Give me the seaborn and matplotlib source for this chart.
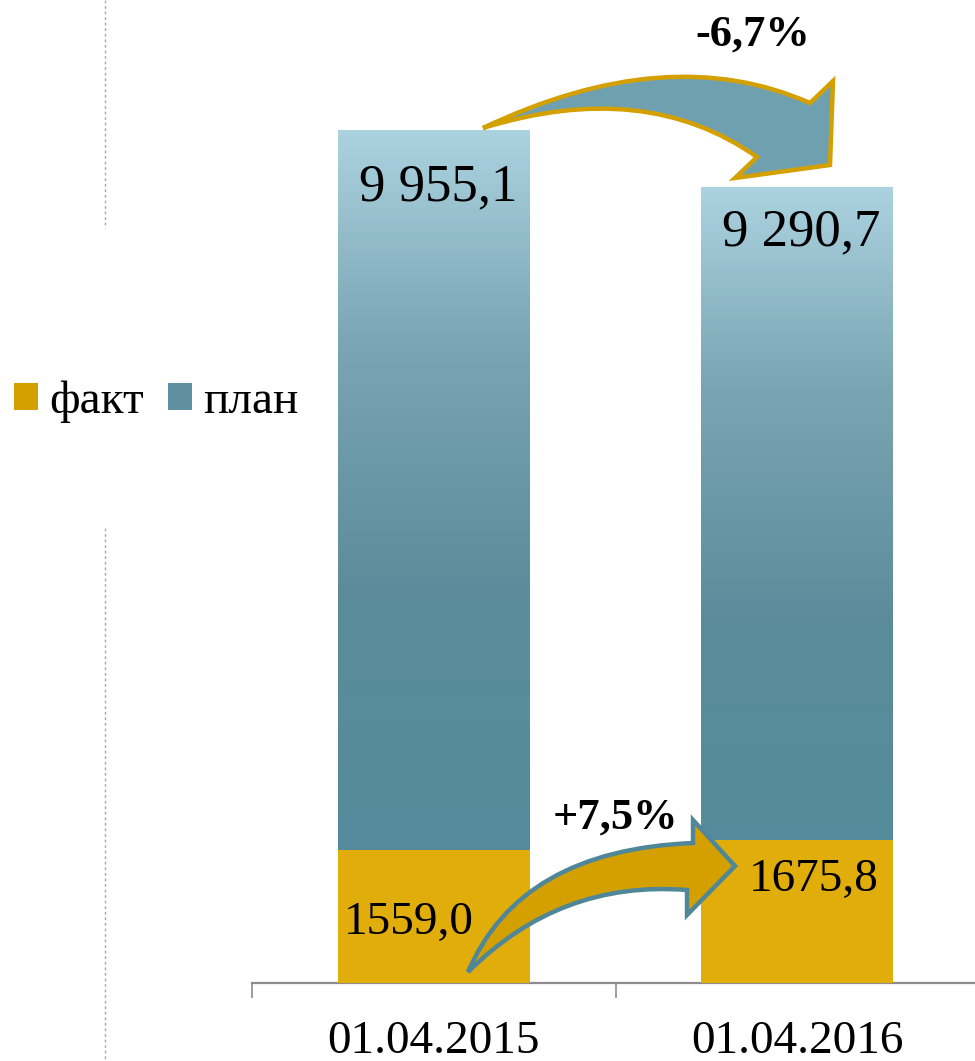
import matplotlib
matplotlib.use('Agg')
import matplotlib.pyplot as plt
import matplotlib.patches as mpatches
from matplotlib.path import Path
from matplotlib.lines import Line2D
from matplotlib.colors import LinearSegmentedColormap
import seaborn as sns
import numpy as np

# data
dates = ['01.04.2015', '01.04.2016']
plan = [9955.1, 9290.7]
fact = [1559.0, 1675.8]
plan_labels = ['9 955,1', '9 290,7']
fact_labels = ['1559,0', '1675,8']
changes = ['-6,7%', '+7,5%']
series_names = ['факт', 'план']

sns.set_style('white')
plt.rcParams['font.family'] = ['Liberation Serif', 'DejaVu Serif']
plt.rcParams['text.color'] = 'black'
plt.rcParams['xtick.color'] = '#8c8c8c'
plt.rcParams['xtick.labelcolor'] = 'black'

W, H = 975, 1061
fig = plt.figure(figsize=(W / 100, H / 100), dpi=100)
ax = fig.add_axes([252 / W, (H - 983) / H, (979 - 252) / W, 983 / H])

gold = '#e0ad0b'
gold_dark = '#d4a000'
teal_edge = '#4f8799'
grad = LinearSegmentedColormap.from_list(
    'plan', [(0.0, '#528c9e'), (0.45, '#5b8b9a'), (0.75, '#7ba5b3'), (1.0, '#abd2df')])

# plan bars (behind), fact bars in front
sns.barplot(x=dates, y=plan, ax=ax, width=0.528, color='#5f8fa0', saturation=1,
            linewidth=0, zorder=1)
sns.barplot(x=dates, y=fact, ax=ax, width=0.528, color=gold, saturation=1,
            linewidth=0, zorder=3)

# replace plan fill with vertical gradient
ramp = np.linspace(0, 1, 256).reshape(-1, 1)
for bar in ax.containers[0]:
    x0, y0 = bar.get_x(), bar.get_y()
    bw, bh = bar.get_width(), bar.get_height()
    bar.set_facecolor('none')
    ax.imshow(ramp, cmap=grad, origin='lower', aspect='auto',
              extent=(x0, x0 + bw, y0, y0 + bh), zorder=2)

ax.set_xlim(-0.5, 1.5)
ax.set_ylim(0, 11480)

# value labels
plan_off = [(0.011, 668), (1.01, 529)]
for i, lab in enumerate(plan_labels):
    dx, dy = plan_off[i]
    ax.text(dx, plan[i] - dy, lab, ha='center', va='center', fontsize=38, zorder=5)
fact_pos = [(-0.069, 701), (1.045, 1203)]
for i, lab in enumerate(fact_labels):
    ax.text(fact_pos[i][0], fact_pos[i][1], lab, ha='center', va='center',
            fontsize=34, zorder=5)

# axes styling
for s in ['top', 'left', 'right']:
    ax.spines[s].set_visible(False)
ax.spines['bottom'].set_color('#8c8c8c')
ax.spines['bottom'].set_linewidth(1.6)
ax.set_yticks([])
ax.set_xticks([-0.5, 0.5, 1.5], minor=False)
ax.set_xticklabels([])
ax.tick_params(axis='x', which='major', direction='out', length=11, width=1.2,
               color='#8c8c8c', bottom=True)
ax.set_xticks([0, 1], minor=True)
ax.set_xticklabels(dates, minor=True)
ax.tick_params(axis='x', which='minor', length=0, pad=27, labelsize=34,
               labelcolor='black', bottom=True)
ax.set_xlabel('')
ax.patch.set_alpha(0)


def px(pts):
    return [(x / W, (H - y) / H) for x, y in pts]


def arrow(verts, codes, face, edge):
    p = Path(px(verts), codes)
    fig.add_artist(mpatches.PathPatch(p, facecolor=face, edgecolor=edge, lw=3.2,
                                      joinstyle='miter', transform=fig.transFigure,
                                      zorder=6))


M, C3, L, CL = Path.MOVETO, Path.CURVE3, Path.LINETO, Path.CLOSEPOLY
# plan change arrow
arrow([(483, 128), (668, 40), (810, 103), (833, 81), (830, 165), (735, 178),
       (757, 157), (645, 78), (483, 128), (483, 128)],
      [M, C3, C3, L, L, L, L, C3, C3, CL], '#6fa0b0', gold_dark)
# fact change arrow
arrow([(468, 972), (520, 850), (693, 843), (693, 820), (735, 866), (687, 915),
       (687, 890), (560, 880), (468, 972), (468, 972)],
      [M, C3, C3, L, L, L, L, C3, C3, CL], gold_dark, teal_edge)

fig.text(753 / W, 1 - 35 / H, changes[0], ha='center', va='center',
         fontsize=32, fontweight='bold')
fig.text(615 / W, 1 - 818 / H, changes[1], ha='center', va='center',
         fontsize=32, fontweight='bold')

# legend
handles = [mpatches.Patch(facecolor=gold_dark, edgecolor='none'),
           mpatches.Patch(facecolor='#5f8fa0', edgecolor='none')]
fig.legend(handles, series_names, loc='center left', bbox_to_anchor=(0.0, 1 - 402 / H),
           ncol=2, frameon=False, fontsize=34, handlelength=0.5, handleheight=0.5,
           handletextpad=0.25, columnspacing=0.5, borderaxespad=0.0, borderpad=0.3)

# dotted slide guide
for y0, y1 in [(0, 228), (528, H)]:
    fig.add_artist(Line2D([105 / W, 105 / W], [1 - y0 / H, 1 - y1 / H],
                          transform=fig.transFigure, color='#a8a8a8', lw=1,
                          linestyle=(0, (2, 2))))

fig.savefig('out.png', dpi=100)
